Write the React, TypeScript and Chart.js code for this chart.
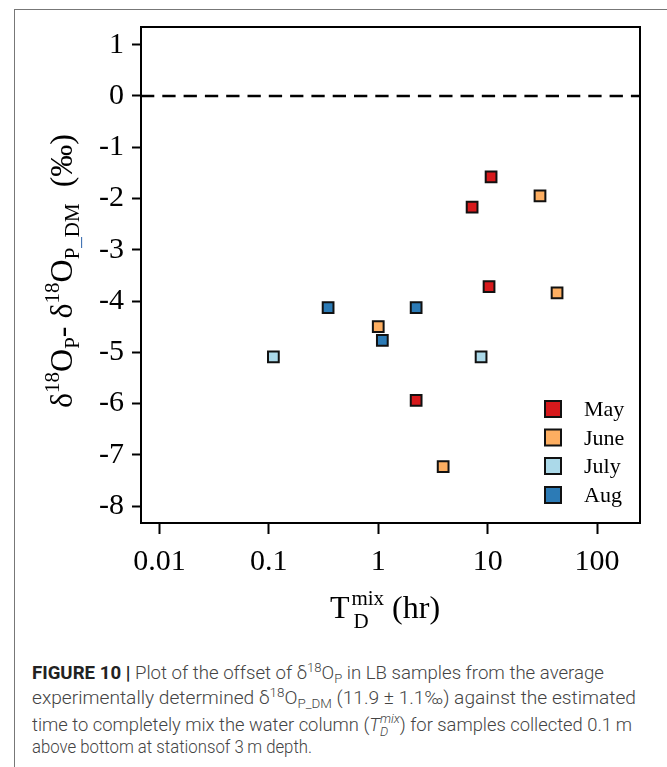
import React, { useEffect, useLayoutEffect, useRef } from "react";
import { Chart, registerables } from "chart.js";

Chart.register(...registerables);

// ---- data ----
const seriesNames = ["May", "June", "July", "Aug"];
const seriesColors = ["#d7191c", "#fdae61", "#abd9e9", "#2c7bb6"];
const mayX = [10.75, 7.21, 10.3, 2.22];
const mayY = [-1.58, -2.17, -3.72, -5.94];
const juneX = [30.1, 43.1, 1.0, 3.92];
const juneY = [-1.95, -3.84, -4.5, -7.23];
const julyX = [0.11, 8.71];
const julyY = [-5.09, -5.09];
const augX = [0.348, 2.22, 1.09];
const augY = [-4.13, -4.13, -4.77];
const xTickValues = [0.01, 0.1, 1, 10, 100];
const xTickLabels = ["0.01", "0.1", "1", "10", "100"];
const yTickValues = [1, 0, -1, -2, -3, -4, -5, -6, -7, -8];
const yTickLabels = ["1", "0", "-1", "-2", "-3", "-4", "-5", "-6", "-7", "-8"];
const xLimits = [0.00678, 247];
const yLimits = [-8.33, 1.345];
const referenceY = 0;

const seriesX = [mayX, juneX, julyX, augX];
const seriesY = [mayY, juneY, julyY, augY];

const SERIF = "'Liberation Serif', 'Times New Roman', serif";
const SANS = "Roboto, 'Liberation Sans', sans-serif";

type Seg = { t: string; k: "n" | "sup" | "sub"; color?: string };
const yTitleSegs: Seg[] = [
  { t: "\u03b4", k: "n" },
  { t: "18", k: "sup" },
  { t: "O", k: "n" },
  { t: "P", k: "sub" },
  { t: "- ", k: "n" },
  { t: "\u03b4", k: "n" },
  { t: "18", k: "sup" },
  { t: "O", k: "n" },
  { t: "P", k: "sub" },
  { t: "_", k: "sub", color: "#3a6db0" },
  { t: "DM", k: "sub" },
  { t: "  (\u2030)", k: "n" },
];

const MAIN = 32;
const SMALL = 21;

function drawSegs(ctx: CanvasRenderingContext2D, segs: Seg[], x0: number) {
  let x = x0;
  for (const s of segs) {
    const size = s.k === "n" ? MAIN : SMALL;
    ctx.font = `${size}px ${SERIF}`;
    const dy = s.k === "sup" ? -13 : s.k === "sub" ? 7 : 0;
    ctx.fillStyle = s.color || "#000";
    ctx.fillText(s.t, x, dy);
    x += ctx.measureText(s.t).width;
  }
  return x - x0;
}

function segsWidth(ctx: CanvasRenderingContext2D, segs: Seg[]) {
  let w = 0;
  for (const s of segs) {
    ctx.font = `${s.k === "n" ? MAIN : SMALL}px ${SERIF}`;
    w += ctx.measureText(s.t).width;
  }
  return w;
}

const decorPlugin = {
  id: "decor",
  afterDraw(chart: any) {
    const ctx: CanvasRenderingContext2D = chart.ctx;
    const a = chart.chartArea;
    ctx.save();
    // frame
    ctx.strokeStyle = "#000";
    ctx.lineWidth = 2;
    ctx.strokeRect(a.left, a.top, a.right - a.left, a.bottom - a.top);

    // y title (rotated)
    ctx.textAlign = "left";
    ctx.textBaseline = "alphabetic";
    const w = segsWidth(ctx, yTitleSegs);
    const cy = 271;
    ctx.save();
    ctx.translate(72, cy + w / 2);
    ctx.rotate(-Math.PI / 2);
    drawSegs(ctx, yTitleSegs, 0);
    ctx.restore();

    // x title: T with stacked mix / D, then (hr)
    ctx.fillStyle = "#000";
    ctx.font = `${MAIN}px ${SERIF}`;
    const tW = ctx.measureText("T").width;
    ctx.font = `${SMALL}px ${SERIF}`;
    const mixW = ctx.measureText("mix").width;
    ctx.font = `${MAIN}px ${SERIF}`;
    const hrW = ctx.measureText(" (hr)").width;
    const total = tW + 2 + mixW + hrW;
    const cx = 385;
    let x = cx - total / 2;
    const base = 618;
    ctx.fillText("T", x, base);
    x += tW + 2;
    ctx.font = `${SMALL}px ${SERIF}`;
    ctx.fillText("mix", x, base - 13);
    ctx.fillText("D", x + 2, base + 10);
    x += mixW;
    ctx.font = `${MAIN}px ${SERIF}`;
    ctx.fillText(" (hr)", x, base);

    // legend
    const sq = 16;
    const rowOffsets = [114, 85.5, 57, 28];
    seriesNames.forEach((name, i) => {
      const yc = a.bottom - rowOffsets[i];
      const xl = a.right - 95;
      ctx.fillStyle = seriesColors[i];
      ctx.fillRect(xl, yc - sq / 2, sq, sq);
      ctx.lineWidth = 2;
      ctx.strokeStyle = "#111";
      ctx.strokeRect(xl, yc - sq / 2, sq, sq);
      ctx.fillStyle = "#000";
      ctx.font = `22px ${SERIF}`;
      ctx.textBaseline = "alphabetic";
      ctx.fillText(name, a.right - 56, yc + 7);
    });
    ctx.restore();
  },
};

function ChartBox() {
  const ref = useRef<HTMLCanvasElement | null>(null);
  useEffect(() => {
    if (!ref.current) return;
    const datasets: any[] = seriesNames.map((name, i) => ({
      label: name,
      data: seriesX[i].map((x, j) => ({ x, y: seriesY[i][j] })),
      backgroundColor: seriesColors[i],
      borderColor: "#111",
      borderWidth: 2,
      pointStyle: "rect",
      pointRadius: 7.6,
      pointHoverRadius: 7.6,
      order: 1,
    }));
    datasets.push({
      label: "zero",
      data: [
        { x: xLimits[0], y: referenceY },
        { x: xLimits[1], y: referenceY },
      ],
      showLine: true,
      borderColor: "#000",
      borderWidth: 2.5,
      borderDash: [13.3, 8],
      borderCapStyle: "butt",
      pointRadius: 0,
      pointHoverRadius: 0,
      order: 2,
    });
    const tickFont = { family: SERIF, size: 30 };
    const chart = new Chart(ref.current, {
      type: "scatter",
      data: { datasets },
      plugins: [decorPlugin],
      options: {
        responsive: false,
        animation: false,
        devicePixelRatio: 1,
        events: [],
        layout: { padding: { left: 0, top: 27, right: 27, bottom: 0 } },
        plugins: { legend: { display: false }, tooltip: { enabled: false } },
        scales: {
          x: {
            type: "logarithmic",
            bounds: "data",
            min: xLimits[0],
            max: xLimits[1],
            afterFit: (s: any) => {
              s.height = 117;
            },
            afterBuildTicks: (s: any) => {
              s.ticks = xTickValues.map((v) => ({ value: v }));
            },
            ticks: {
              callback: (v: any) => {
                const i = xTickValues.indexOf(Number(v));
                return i >= 0 ? xTickLabels[i] : "";
              },
              font: tickFont,
              color: "#000",
              padding: 10,
              autoSkip: false,
              maxRotation: 0,
            },
            grid: { drawOnChartArea: false, tickLength: 11, tickWidth: 2, tickColor: "#000" },
            border: { display: false },
            title: { display: false },
          },
          y: {
            type: "linear",
            bounds: "data",
            min: yLimits[0],
            max: yLimits[1],
            afterFit: (s: any) => {
              s.width = 141;
            },
            afterBuildTicks: (s: any) => {
              s.ticks = yTickValues.map((v) => ({ value: v }));
            },
            ticks: {
              callback: (v: any) => {
                const i = yTickValues.indexOf(Number(v));
                return i >= 0 ? yTickLabels[i] : "";
              },
              font: tickFont,
              color: "#000",
              padding: 8,
              autoSkip: false,
            },
            grid: { drawOnChartArea: false, tickLength: 9, tickWidth: 2, tickColor: "#000" },
            border: { display: false },
            title: { display: false },
          },
        },
      } as any,
    });
    return () => chart.destroy();
  }, []);
  return (
    <canvas
      ref={ref}
      width={667}
      height={640}
      style={{ position: "absolute", left: 0, top: 0, width: 667, height: 640 }}
    />
  );
}

const captionTargets = [572, 604, 600, 280];
const captionBaselines = [679, 703.5, 728, 752.5];

const supS: React.CSSProperties = { fontSize: "0.7em", verticalAlign: "0.55em", lineHeight: 0 };
const subS: React.CSSProperties = { fontSize: "0.7em", verticalAlign: "-0.3em", lineHeight: 0 };

function Caption() {
  const refs = useRef<(HTMLDivElement | null)[]>([]);
  useLayoutEffect(() => {
    refs.current.forEach((el, i) => {
      if (!el) return;
      el.style.transform = "none";
      const w = el.getBoundingClientRect().width;
      if (w > 0) el.style.transform = `scaleX(${captionTargets[i] / w})`;
    });
  }, []);
  const lineStyle = (i: number): React.CSSProperties => ({
    position: "absolute",
    left: 32,
    top: captionBaselines[i] - 16,
    whiteSpace: "nowrap",
    fontFamily: SANS,
    fontWeight: 300,
    fontSize: 19,
    lineHeight: "19px",
    color: "#444",
    transformOrigin: "0 0",
  });
  const lines = [
    <>
      <b style={{ color: "#222", fontWeight: 700 }}>FIGURE 10 |</b> Plot of the offset of {"\u03b4"}
      <span style={supS}>18</span>O<span style={subS}>P</span> in LB samples from the average
    </>,
    <>
      experimentally determined {"\u03b4"}
      <span style={supS}>18</span>O<span style={subS}>P_DM</span> (11.9 {"\u00b1"} 1.1{"\u2030"}) against the estimated
    </>,
    <>
      time to completely mix the water column (<i>T</i>
      <span
        style={{
          display: "inline-flex",
          flexDirection: "column",
          verticalAlign: "0.6em",
          fontSize: "0.7em",
          lineHeight: "1em",
          fontStyle: "italic",
        }}
      >
        <span>mix</span>
        <span>D</span>
      </span>
      ) for samples collected 0.1{"\u2009"}m
    </>,
    <>above bottom at stationsof 3{"\u2009"}m depth.</>,
  ];
  return (
    <>
      {lines.map((content, i) => (
        <div key={i} ref={(el) => { refs.current[i] = el; }} style={lineStyle(i)}>
          {content}
        </div>
      ))}
    </>
  );
}

export default function App() {
  return (
    <div
      style={{
        position: "absolute",
        left: 0,
        top: 0,
        width: 667,
        height: 767,
        overflow: "hidden",
        background: "#fff",
      }}
    >
      <div
        style={{
          position: "absolute",
          left: 14,
          top: 9,
          width: 720,
          height: 820,
          border: "1px solid #777",
        }}
      />
      <ChartBox />
      <Caption />
    </div>
  );
}
